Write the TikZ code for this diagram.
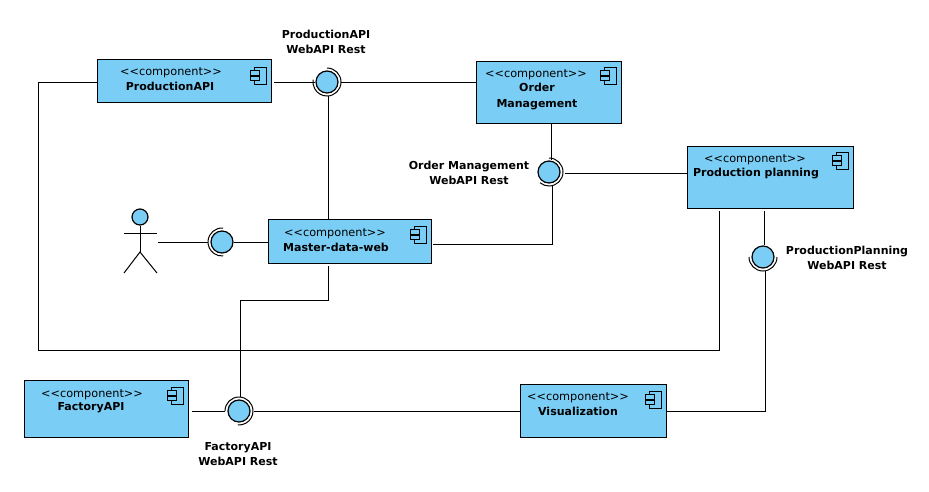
\documentclass[tikz,border=0pt]{standalone}
\usepackage{fontspec}
\setmainfont{DejaVu Sans}
\definecolor{cfill}{HTML}{7ACEF6}
\tikzset{
 x=1pt,y=-1pt,
 every path/.style={line width=1pt},
 comp/.style={draw=black,fill=cfill,rectangle,inner sep=0pt,line width=1.3pt},
 stereo/.style={font=\fontsize{11.3}{13}\selectfont,inner sep=0pt},
 cname/.style={font=\fontsize{11}{16}\selectfont\bfseries,inner sep=0pt,align=center},
 lbl/.style={font=\fontsize{11}{15.5}\selectfont\bfseries,inner sep=0pt,align=center},
 lolly/.style={draw=black,fill=cfill,circle,inner sep=0pt,minimum size=22pt,line width=1.2pt},
 conn/.style={draw=black,line width=1pt},
}
\newcommand{\compbox}[6]{% name, x1, y1, x2, y2, icon top offset
 \node[comp,minimum width={#4-#2},minimum height={#5-#3},anchor=north west] (#1) at (#2-.5,#3) {};
 \node[comp,minimum width=12pt,minimum height=17pt,anchor=north west,fill=none,line width=1pt] (#1i) at ({#4-17.5},{#3+#6}) {};
 \node[comp,minimum width=8.5pt,minimum height=4.5pt,line width=1pt] (#1a) at ({#4-16},{#3+#6+6}) {};
 \node[comp,minimum width=8.5pt,minimum height=4.5pt,line width=1pt] (#1b) at ({#4-16},{#3+#6+11.5}) {};
}
\newcommand{\lolly}[5]{% name, x, y, arc start, arc end
 \node[lolly] (#1) at (#2,#3) {};
 \draw[line width=1pt] ({#2+14*cos(#4)},{#3-14*sin(#4)}) arc[start angle=-#4,end angle=-#5,radius=14];
}
\begin{document}
\begin{tikzpicture}
\useasboundingbox (0,0) rectangle (929,491);
\compbox{pa}{97}{59}{271}{102}{8}
\compbox{om}{476}{61}{621}{123}{6}
\compbox{pp}{687}{146}{853}{208}{6}
\compbox{md}{268}{219}{431}{263}{7}
\compbox{fa}{24}{380}{188}{437}{7}
\compbox{vi}{520}{384}{666}{437}{7}

\node[stereo] (s1) at (171,73) {<\kern0pt<component>\kern0pt>};
\node[cname] (n1) at (170,86) {ProductionAPI};
\node[stereo] (s2) at (536,75) {<\kern0pt<component>\kern0pt>};
\node[cname] (n2) at (537,97) {Order\\Management};
\node[stereo] (s3) at (755,160) {<\kern0pt<component>\kern0pt>};
\node[cname] (n3) at (756,174) {Production planning};
\node[stereo] (s4) at (335,234) {<\kern0pt<component>\kern0pt>};
\node[cname] (n4) at (336,247) {Master-data-web};
\node[stereo] (s5) at (92,395) {<\kern0pt<component>\kern0pt>};
\node[cname] (n5) at (91,408) {FactoryAPI};
\node[stereo] (s6) at (578,398) {<\kern0pt<component>\kern0pt>};
\node[cname] (n6) at (578,411) {Visualization};

\lolly{l1}{327}{82}{90}{-190}
\lolly{l2}{549}{172}{90}{-130}
\lolly{l3}{763}{257}{180}{360}
\lolly{l4}{222}{242}{85}{275}
\lolly{l5}{239}{411}{180}{-95}

\node[lbl] (t1) at (326,42) {ProductionAPI\\WebAPI Rest};
\node[lbl] (t2) at (469,173) {Order Management\\WebAPI Rest};
\node[lbl] (t3) at (847,258) {ProductionPlanning\\WebAPI Rest};
\node[lbl] (t4) at (238,454) {FactoryAPI\\WebAPI Rest};

% actor
\node[draw=black,fill=cfill,circle,inner sep=0pt,minimum size=16pt,line width=1.2pt] (head) at (140,217) {};
\coordinate (hip) at (140,252);
\coordinate (armL) at (124,233);
\coordinate (armR) at (157,233);
\coordinate (legL) at (124,273);
\coordinate (legR) at (157,273);
\draw[conn] (head.south) -- (hip);
\draw[conn] (armL) -- (armR);
\draw[conn] (legL) -- (hip) -- (legR);

% connectors
\coordinate (a0) at (158,242);
\draw[conn] (a0) -- (208,242);
\draw[conn] (l4.east) -- (md.west |- l4.east);
\draw[conn] (274,82) -- (l1.west);
\draw[conn] (341,82) -- (om.west |- 0,82);
\draw[conn] (328,96) -- (md.north -| 328,0);
\draw[conn] (pa.west |- 0,82) -- (38,82) -- (38,350) -- (719,350) -- (719,211);
\draw[conn] (551,124) -- (551,160);
\draw[conn] (565,173) -- (pp.west |- 0,173);
\draw[conn] (552,186) -- (552,244) -- (433,244);
\draw[conn] (764,211) -- (l3.north -| 764,0);
\draw[conn] (328,266) -- (328,300) -- (240,300) -- (240,397);
\draw[conn] (192,411) -- (225,411);
\draw[conn] (254,411) -- (vi.west |- 0,411);
\draw[conn] (667,411) -- (765,411) -- (765,271);
\end{tikzpicture}
\end{document}
